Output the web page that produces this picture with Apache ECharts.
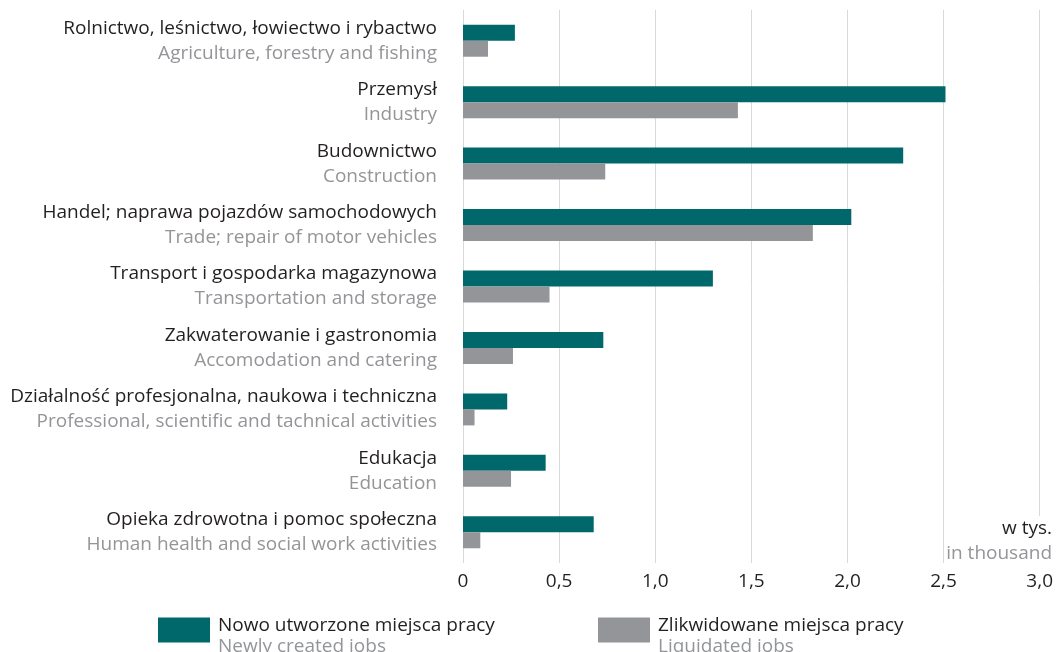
<!DOCTYPE html>
<html>
<head>
<meta charset="utf-8">
<script src="https://cdn.jsdelivr.net/npm/echarts@6/dist/echarts.min.js"></script>
<style>
html,body{margin:0;padding:0;background:#fff;}
#box{width:1056px;height:652px;}
</style>
</head>
<body>
<div id="box"></div>
<script>
// kategorie PL / EN
var categoriesPl = ['Rolnictwo, leśnictwo, łowiectwo i rybactwo', 'Przemysł', 'Budownictwo',
	'Handel; naprawa pojazdów samochodowych', 'Transport i gospodarka magazynowa',
	'Zakwaterowanie i gastronomia', 'Działalność profesjonalna, naukowa i techniczna',
	'Edukacja', 'Opieka zdrowotna i pomoc społeczna'];
var categoriesEn = ['Agriculture, forestry and fishing', 'Industry', 'Construction',
	'Trade; repair of motor vehicles', 'Transportation and storage',
	'Accomodation and catering', 'Professional, scientific and tachnical activities',
	'Education', 'Human health and social work activities'];
// w tys.
var newJobs = [0.27, 2.51, 2.29, 2.02, 1.30, 0.73, 0.23, 0.43, 0.68];
var liquidatedJobs = [0.13, 1.43, 0.74, 1.82, 0.45, 0.26, 0.06, 0.25, 0.09];
var seriesNames = ['Nowo utworzone miejsca pracy', 'Zlikwidowane miejsca pracy'];
var seriesNamesEn = ['Newly created jobs', 'Liquidated jobs'];

var font = 'Open Sans';
var fs = 19;
var green = '#00686b';
var grey = '#939598';
var black = '#231f20';

var catIdx = [];
for (var i = 0; i < categoriesPl.length; i++) catIdx.push(i);

var dom = document.getElementById('box');
var myChart = echarts.init(dom);
var option = {
	animation: false,
	textStyle: {fontFamily: font},
	grid: {left: 463, right: 15, top: 10, bottom: 89},
	legend: [0, 1].map(function (k) {
		return {
			left: k == 0 ? 153 : 593,
			top: 611,
			itemWidth: 52,
			itemHeight: 25,
			itemGap: 0,
			icon: 'rect',
			data: [seriesNames[k]],
			formatter: function () {
				return '{a|' + seriesNames[k] + '}\n{b|' + seriesNamesEn[k] + '}';
			},
			textStyle: {
				padding: [12, 0, 0, 3],
				rich: {
					a: {fontFamily: font, fontSize: fs, color: black, lineHeight: 21},
					b: {fontFamily: font, fontSize: fs, color: grey, lineHeight: 21}
				}
			}
		};
	}),
	xAxis: {
		type: 'value',
		min: 0,
		max: 3,
		interval: 0.5,
		axisLine: {show: false},
		axisTick: {show: false},
		splitLine: {lineStyle: {color: '#d9d9d9', width: 1}},
		axisLabel: {
			margin: 9,
			fontFamily: font,
			fontSize: fs,
			color: black,
			formatter: function (v) {
				return v == 0 ? '0' : v.toFixed(1).replace('.', ',');
			}
		}
	},
	yAxis: {
		type: 'category',
		inverse: true,
		data: catIdx,
		axisLine: {show: false},
		axisTick: {show: false},
		axisLabel: {
			margin: 26,
			align: 'right',
			formatter: function (v) {
				return '{a|' + categoriesPl[v] + '}\n{b|' + categoriesEn[v] + '}';
			},
			rich: {
				a: {fontFamily: font, fontSize: fs, color: black, lineHeight: 25, align: 'right'},
				b: {fontFamily: font, fontSize: fs, color: grey, lineHeight: 25, align: 'right'}
			}
		}
	},
	graphic: [{
		type: 'text',
		right: 4,
		top: 516,
		z: 100,
		style: {
			text: '{a|w tys.}\n{b|in thousand}',
			align: 'right',
			backgroundColor: '#fff',
			rich: {
				a: {fontFamily: font, fontSize: fs, fill: black, lineHeight: 25, align: 'right'},
				b: {fontFamily: font, fontSize: fs, fill: grey, lineHeight: 25, align: 'right'}
			}
		}
	}],
	series: [{
		name: seriesNames[0],
		type: 'bar',
		data: newJobs,
		barWidth: 16,
		barGap: '0%',
		itemStyle: {color: green}
	}, {
		name: seriesNames[1],
		type: 'bar',
		data: liquidatedJobs,
		barWidth: 16,
		barGap: '0%',
		itemStyle: {color: grey}
	}]
};
myChart.setOption(option, true);
</script>
</body>
</html>
